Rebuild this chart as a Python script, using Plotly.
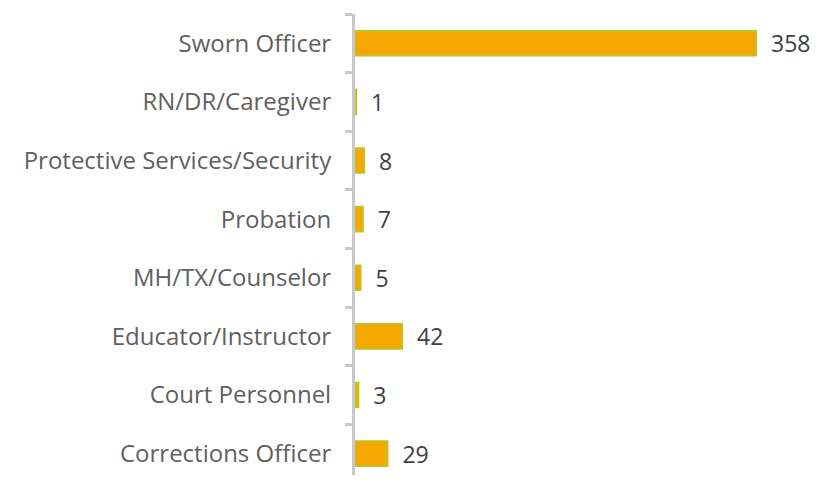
import plotly.graph_objects as go

categories = ["Sworn Officer", "RN/DR/Caregiver", "Protective Services/Security",
              "Probation", "MH/TX/Counselor", "Educator/Instructor",
              "Court Personnel", "Corrections Officer"]
values = [358, 1, 8, 7, 5, 42, 3, 29]

fig = go.Figure(go.Bar(
    x=values, y=categories, orientation="h",
    marker=dict(color="#F3A700", line=dict(color="#C4C21E", width=2)),
    width=0.42,
    text=values, texttemplate="  %{x}", textposition="outside",
    constraintext="none",
    textfont=dict(color="#404040", size=23, family="Open Sans"),
    cliponaxis=False,
))

# page body adds an 8px margin, so the figure is offset by 8px
fig.update_layout(
    width=804, height=467,
    margin=dict(l=347, r=20, t=6, b=0, autoexpand=False),
    paper_bgcolor="white", plot_bgcolor="white",
    showlegend=False,
    font=dict(family="Open Sans", size=24, color="#595959"),
    xaxis=dict(range=[0, 390.1], visible=False, showgrid=False, zeroline=False,
               automargin=False),
    yaxis=dict(type="category", autorange=False, range=[7.364, -0.5],
               categoryorder="array", categoryarray=categories,
               automargin=False,
               showline=True, linecolor="#C8C8C8", linewidth=3,
               ticks="outside", tickson="boundaries", ticklen=7,
               tickcolor="#C8C8C8", tickwidth=3, ticklabelstandoff=16,
               showgrid=False, zeroline=False,
               tickfont=dict(size=24, color="#5F5F5F", family="Open Sans")),
)

fig.write_html("out.html")
